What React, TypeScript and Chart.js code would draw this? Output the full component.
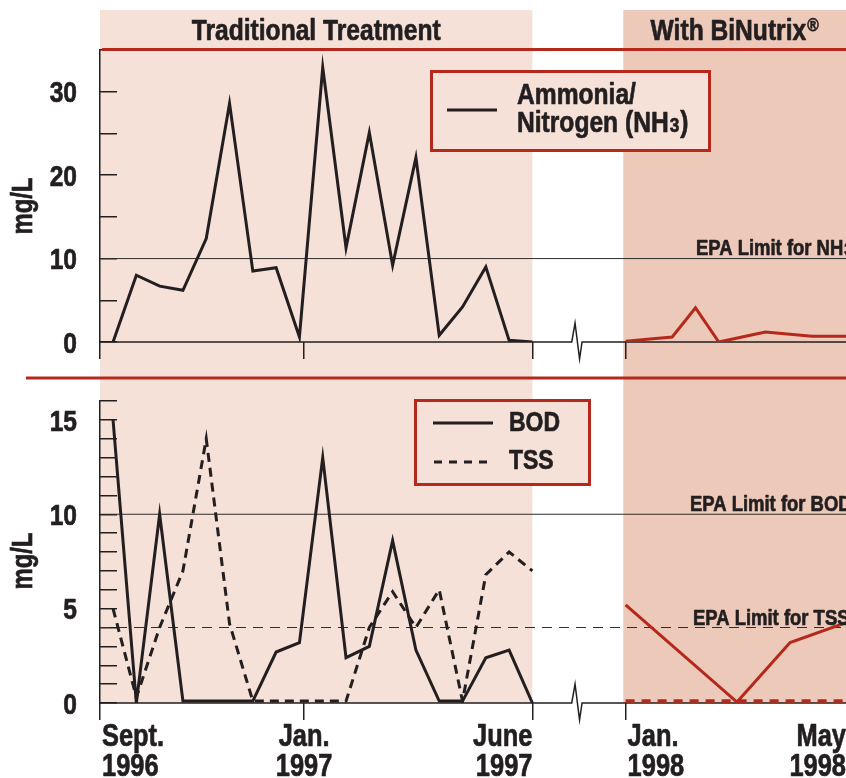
import React, { useEffect, useRef } from 'react';
import { Chart, registerables } from 'chart.js';
Chart.register(...registerables);

// Arial-metric bold, compressed horizontally to imitate a condensed face
const FONT = '"Liberation Sans", Arial, sans-serif';
const SQUEEZE = 0.82;
const EMBOLDEN = 0.7;
const INK = '#231f20';
const RED = '#b5291c';
const LIGHT = '#f5e1d8';
const DARK = '#ecc9b9';
const LIMIT = '#2e2e2e';

// x axis: sample number (about two weeks apart), linear
const X_MIN = -0.56;
const X_MAX = 31.46;
const tradX = [0, 1, 2, 3, 4, 5, 6, 7, 8, 9, 10, 11, 12, 13, 14, 15, 16, 17, 18];
const ammoniaTrad = [0, 8, 6.7, 6.2, 12.4, 28.6, 8.5, 8.9, 0.6, 32.9, 11.3, 25.1, 9.2, 22.1, 0.8, 4.2, 9.0, 0.2, 0];
const bodTrad = [15, 0, 10, 0.1, 0.1, 0.1, 0.1, 2.7, 3.2, 13, 2.4, 3.0, 8.6, 2.8, 0.1, 0.1, 2.4, 2.8, 0];
const tssTrad = [5, 0.3, 4.0, 7.0, 14.0, 4.2, 0.1, 0.1, 0.1, 0.1, 0.1, 4.0, 5.9, 4.0, 6.0, 0.1, 6.8, 8.0, 7.0];

const ammoniaBinX = [22, 24, 25, 26, 27, 28, 30, 31.46];
const ammoniaBin = [0.1, 0.6, 4.1, 0, 0.6, 1.2, 0.7, 0.7];
const bodBinX = [22, 26.78, 29.06, 31.46];
const bodBin = [5.2, 0.05, 3.2, 4.25];
const tssBinX = [22, 31.46];
const tssBin = [0.1, 0.1];

const EPA_NH3 = 10;
const EPA_BOD = 10;
const EPA_TSS = 4;

const topYMax = 35;
const topYStep = 5;
const topYLabels = [0, 10, 20, 30];
const botYMax = 16;
const botYStep = 1;
const botYLabels = [0, 5, 10, 15];

const tickPos = [X_MIN, 8.2, 18, 22, X_MAX];
const tickLabels = [['Sept.', '1996'], ['Jan.', '1997'], ['June', '1997'], ['Jan.', '1998'], ['May', '1998']];
const tickAlign: CanvasTextAlign[] = ['left', 'center', 'right', 'left', 'right'];
const tradRange = [X_MIN, 18];
const binRange = [21.9, X_MAX];
const BREAK_AT = 19.83;

const pts = (xs: number[], ys: number[]) => xs.map((x, i) => ({ x, y: ys[i] }));
const f = (size: number) => `bold ${size}px ${FONT}`;

function measure(ctx: any, s: string, size: number) {
  ctx.font = f(size);
  return ctx.measureText(s).width * SQUEEZE;
}

function text(ctx: any, s: string, x: number, y: number, size: number, align: CanvasTextAlign = 'left', color = INK) {
  ctx.save();
  ctx.translate(x, y);
  ctx.scale(SQUEEZE, 1);
  ctx.font = f(size);
  ctx.fillStyle = color;
  ctx.strokeStyle = color;
  ctx.lineWidth = EMBOLDEN;
  ctx.lineJoin = 'round';
  ctx.textAlign = align;
  ctx.textBaseline = 'alphabetic';
  ctx.fillText(s, 0, 0);
  ctx.strokeText(s, 0, 0);
  ctx.restore();
}

function drawBackgrounds(chart: any, top: number, bottom: number) {
  const ctx = chart.ctx;
  const xs = chart.scales.x;
  ctx.save();
  ctx.fillStyle = LIGHT;
  const a = xs.getPixelForValue(tradRange[0]);
  const b = xs.getPixelForValue(tradRange[1]);
  ctx.fillRect(a, top, b - a, bottom - top);
  ctx.fillStyle = DARK;
  const c = xs.getPixelForValue(binRange[0]);
  const d = xs.getPixelForValue(binRange[1]);
  ctx.fillRect(c, top, d - c, bottom - top);
  ctx.restore();
}

function drawAxisWithBreak(chart: any) {
  const ctx = chart.ctx;
  const { left, right, bottom } = chart.chartArea;
  const bx = chart.scales.x.getPixelForValue(BREAK_AT);
  ctx.save();
  ctx.strokeStyle = INK;
  ctx.lineWidth = 1.5;
  ctx.beginPath();
  ctx.moveTo(left, bottom);
  ctx.lineTo(bx - 3.3, bottom);
  ctx.lineTo(bx, bottom - 19);
  ctx.lineTo(bx + 4.5, bottom + 17);
  ctx.lineTo(bx + 7, bottom);
  ctx.lineTo(right, bottom);
  ctx.stroke();
  ctx.restore();
}

function drawYLabels(chart: any, values: number[]) {
  const ctx = chart.ctx;
  const ys = chart.scales.y;
  const size = 30;
  values.forEach((v) => {
    const py = ys.getPixelForValue(v);
    text(ctx, String(v), chart.chartArea.left - 23, py + (size * 0.716) / 2, size, 'right');
  });
}

function drawYTitle(ctx: any, cx: number, cy: number) {
  ctx.save();
  ctx.translate(cx, cy);
  ctx.rotate(-Math.PI / 2);
  ctx.scale(SQUEEZE, 1);
  ctx.font = f(29);
  ctx.fillStyle = INK;
  ctx.strokeStyle = INK;
  ctx.lineWidth = EMBOLDEN;
  ctx.textAlign = 'center';
  ctx.textBaseline = 'middle';
  ctx.fillText('mg/L', 0, 0);
  ctx.strokeText('mg/L', 0, 0);
  ctx.restore();
}

const EPA_SIZE = 22.5;

const topDecor = {
  id: 'topDecor',
  beforeDraw(chart: any) {
    drawBackgrounds(chart, 10, chart.height);
  },
  beforeDatasetsDraw(chart: any) {
    drawAxisWithBreak(chart);
  },
  afterDraw(chart: any) {
    const ctx = chart.ctx;
    const xs = chart.scales.x;
    ctx.save();
    ctx.strokeStyle = RED;
    ctx.lineWidth = 3;
    ctx.beginPath();
    ctx.moveTo(chart.chartArea.left + 2, 49.5);
    ctx.lineTo(chart.width, 49.5);
    ctx.stroke();
    // titles
    const tc = (xs.getPixelForValue(tradRange[0]) + xs.getPixelForValue(tradRange[1])) / 2;
    text(ctx, 'Traditional Treatment', tc, 40, 30, 'center');
    const bc = (xs.getPixelForValue(binRange[0]) + xs.getPixelForValue(binRange[1])) / 2;
    const w1 = measure(ctx, 'With BiNutrix', 30);
    const w2 = measure(ctx, '®', 19);
    const sx = bc - (w1 + w2 + 1) / 2;
    text(ctx, 'With BiNutrix', sx, 40, 30);
    text(ctx, '®', sx + w1 + 1, 31, 19);
    // legend
    ctx.fillStyle = LIGHT;
    ctx.fillRect(431.5, 71.5, 278, 79);
    ctx.strokeStyle = RED;
    ctx.lineWidth = 3;
    ctx.strokeRect(431.5, 71.5, 278, 79);
    ctx.strokeStyle = INK;
    ctx.lineWidth = 3;
    ctx.beginPath();
    ctx.moveTo(447, 110);
    ctx.lineTo(497, 110);
    ctx.stroke();
    text(ctx, 'Ammonia/', 517, 104, 30);
    text(ctx, 'Nitrogen (NH', 517, 132, 30);
    const wn = measure(ctx, 'Nitrogen (NH', 30);
    text(ctx, '3', 517 + wn + 1, 132, 21);
    const w3 = measure(ctx, '3', 21);
    text(ctx, ')', 517 + wn + w3 + 2, 132, 30);
    // EPA label
    const yl = chart.scales.y.getPixelForValue(EPA_NH3);
    const we = measure(ctx, 'EPA Limit for NH', EPA_SIZE);
    text(ctx, 'EPA Limit for NH', 696, yl - 4, EPA_SIZE);
    text(ctx, '3', 696 + we + 1, yl - 4, 16);
    drawYLabels(chart, topYLabels);
    drawYTitle(ctx, 24, 206);
    ctx.restore();
  },
};

const bottomDecor = {
  id: 'bottomDecor',
  beforeDraw(chart: any) {
    drawBackgrounds(chart, 0, chart.chartArea.bottom);
  },
  beforeDatasetsDraw(chart: any) {
    drawAxisWithBreak(chart);
  },
  afterDraw(chart: any) {
    const ctx = chart.ctx;
    const xs = chart.scales.x;
    const ys = chart.scales.y;
    ctx.save();
    ctx.strokeStyle = RED;
    ctx.lineWidth = 3;
    ctx.beginPath();
    ctx.moveTo(26, 8);
    ctx.lineTo(chart.width, 8);
    ctx.stroke();
    // legend
    ctx.fillStyle = LIGHT;
    ctx.fillRect(415.5, 30.5, 174, 84);
    ctx.strokeStyle = RED;
    ctx.lineWidth = 3;
    ctx.strokeRect(415.5, 30.5, 174, 84);
    ctx.strokeStyle = INK;
    ctx.lineWidth = 3;
    ctx.beginPath();
    ctx.moveTo(433, 53);
    ctx.lineTo(493, 53);
    ctx.stroke();
    ctx.setLineDash([8, 7]);
    ctx.beginPath();
    ctx.moveTo(434, 92);
    ctx.lineTo(494, 92);
    ctx.stroke();
    ctx.setLineDash([]);
    text(ctx, 'BOD', 509, 61, 28);
    text(ctx, 'TSS', 509, 99, 28);
    // EPA labels
    text(ctx, 'EPA Limit for BOD', 690, ys.getPixelForValue(EPA_BOD) - 3, EPA_SIZE);
    text(ctx, 'EPA Limit for TSS', 693, ys.getPixelForValue(EPA_TSS) - 3, EPA_SIZE);
    drawYLabels(chart, botYLabels);
    drawYTitle(ctx, 24, 191);
    // x tick labels
    const base = chart.chartArea.bottom;
    tickPos.forEach((v, i) => {
      let px = xs.getPixelForValue(v);
      if (tickAlign[i] === 'left') px += 2;
      text(ctx, tickLabels[i][0], px, base + 43, 31, tickAlign[i]);
      text(ctx, tickLabels[i][1], px, base + 73, 31, tickAlign[i]);
    });
    ctx.restore();
  },
};

function xScale(height: number, tickCount: number) {
  return {
    type: 'linear' as const,
    min: X_MIN,
    max: X_MAX,
    afterBuildTicks: (s: any) => {
      s.ticks = tickPos.slice(0, tickCount).map((v) => ({ value: v }));
    },
    ticks: { display: false, autoSkip: false },
    grid: { drawOnChartArea: false, drawTicks: true, tickLength: 17, color: INK, lineWidth: 1.5 },
    border: { display: false },
    afterFit: (s: any) => {
      s.height = height;
    },
  };
}

function yScale(max: number, step: number) {
  return {
    min: 0,
    max,
    afterBuildTicks: (s: any) => {
      const t = [];
      for (let v = 0; v <= max; v += step) t.push({ value: v });
      s.ticks = t;
    },
    ticks: { display: false, autoSkip: false },
    grid: { drawOnChartArea: false, drawTicks: true, tickLength: -17, color: INK, lineWidth: 1.5 },
    border: { color: INK, width: 1.5 },
    afterFit: (s: any) => {
      s.width = 100;
    },
  };
}

const line = (label: string, data: any[], color: string, width: number, dash: number[] = []) => ({
  label,
  data,
  borderColor: color,
  backgroundColor: color,
  borderWidth: width,
  borderDash: dash,
  pointRadius: 0,
  tension: 0,
  fill: false,
});

export default function App() {
  const topRef = useRef<HTMLCanvasElement>(null);
  const botRef = useRef<HTMLCanvasElement>(null);

  useEffect(() => {
    const top = new Chart(topRef.current as HTMLCanvasElement, {
      type: 'line',
      data: {
        datasets: [
          line('Ammonia/Nitrogen (NH3) – traditional', pts(tradX, ammoniaTrad), INK, 3),
          line('Ammonia/Nitrogen (NH3) – BiNutrix', pts(ammoniaBinX, ammoniaBin), RED, 3),
          line('EPA Limit for NH3', [{ x: X_MIN, y: EPA_NH3 }, { x: X_MAX, y: EPA_NH3 }], LIMIT, 1),
        ],
      },
      options: {
        animation: false,
        responsive: false,
        maintainAspectRatio: false,
        layout: { padding: { top: 50, left: 0, right: 0, bottom: 0 } },
        plugins: { legend: { display: false }, tooltip: { enabled: false } },
        scales: { x: xScale(28, 4) as any, y: yScale(topYMax, topYStep) as any },
      },
      plugins: [topDecor],
    });
    const bottom = new Chart(botRef.current as HTMLCanvasElement, {
      type: 'line',
      data: {
        datasets: [
          line('BOD – traditional', pts(tradX, bodTrad), INK, 3),
          line('TSS – traditional', pts(tradX, tssTrad), INK, 3, [9, 6]),
          line('BOD – BiNutrix', pts(bodBinX, bodBin), RED, 3),
          line('TSS – BiNutrix', pts(tssBinX, tssBin), RED, 3.5, [9, 7]),
          line('EPA Limit for BOD', [{ x: X_MIN, y: EPA_BOD }, { x: X_MAX, y: EPA_BOD }], LIMIT, 1),
          line('EPA Limit for TSS', [{ x: X_MIN, y: EPA_TSS }, { x: X_MAX, y: EPA_TSS }], LIMIT, 1.2, [10, 7]),
        ],
      },
      options: {
        animation: false,
        responsive: false,
        maintainAspectRatio: false,
        layout: { padding: { top: 31, left: 0, right: 0, bottom: 0 } },
        plugins: { legend: { display: false }, tooltip: { enabled: false } },
        scales: { x: xScale(75, 4) as any, y: yScale(botYMax, botYStep) as any },
      },
      plugins: [bottomDecor],
    });
    return () => {
      top.destroy();
      bottom.destroy();
    };
  }, []);

  return (
    <div style={{ position: 'absolute', left: 0, top: 0, width: 846, height: 778, background: '#fff' }}>
      <canvas ref={topRef} width={846} height={370} style={{ display: 'block', width: 846, height: 370 }} />
      <canvas ref={botRef} width={846} height={408} style={{ display: 'block', width: 846, height: 408 }} />
    </div>
  );
}
